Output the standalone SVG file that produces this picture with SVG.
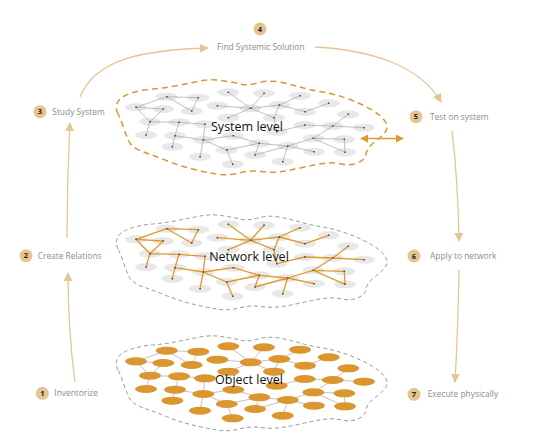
<svg xmlns="http://www.w3.org/2000/svg" xmlns:xlink="http://www.w3.org/1999/xlink" width="533" height="445" viewBox="0 0 533 445">
<style>
.step{font-family:"Open Sans","Noto Sans",sans-serif;font-size:8.4px;fill:#8c8c8c}
.num{font-family:"Open Sans","Noto Sans",sans-serif;font-size:7.5px;font-weight:bold;fill:#222;text-anchor:middle}
.badge{fill:#e4c591}
.lvl{font-family:"Open Sans","Noto Sans",sans-serif;font-size:12.5px;fill:#111;text-anchor:middle}
.flow{fill:none;stroke:#e5c593;stroke-width:1.3}
.blob-sys{fill:none;stroke:#dc9633;stroke-width:1.5;stroke-dasharray:6 4}
.blob-grey{fill:none;stroke:#8a8a8a;stroke-width:0.9;stroke-dasharray:4 3}
.e-grey{fill:none;stroke:#a0a0a0;stroke-width:0.65}
.e-orange{fill:none;stroke:#e0992e;stroke-width:1.3}
.n-grey{fill:#e8e8e8}
.n-orange{fill:#dc9630}
.dots{fill:#444}
</style>
<defs>
<marker id="ah" viewBox="0 0 10 10" refX="9" refY="5" markerWidth="9" markerHeight="9" markerUnits="userSpaceOnUse" orient="auto"><path d="M0,0 L10,5 L0,10 z" fill="#e5c593"/></marker>
<marker id="ao" viewBox="0 0 10 10" refX="9" refY="5" markerWidth="8" markerHeight="8" markerUnits="userSpaceOnUse" orient="auto-start-reverse"><path d="M0,0 L10,5 L0,10 z" fill="#e0992e"/></marker>
<path id="blob" d="M118,114 Q115,108 117.5,102.5 Q120,97 130,93.5 Q140,90 152.5,89 Q165,88 177.5,85.5 Q190,83 200,81 Q210,79 221,80.5 Q232,82 240,84 Q248,86 258,83 Q268,80 279,82 Q290,84 300,87 Q310,90 322.5,92 Q335,94 348.5,99 Q362,104 372,110 Q382,116 385.5,122 Q389,128 384.5,133 Q380,138 373.5,143 Q367,148 366,154 Q365,160 357.5,163 Q350,166 341.5,164 Q333,162 323,163.5 Q313,165 302.5,167.5 Q292,170 282,171.5 Q272,173 261,171.5 Q250,170 239,173 Q228,176 216.5,174 Q205,172 192.5,169 Q180,166 167.5,161 Q155,156 143.5,152 Q132,148 129,141.5 Q126,135 123.5,127.5 Q121,120 118,114 Z"/>
<path id="edges" d="M136,107.3 L166.7,96.7 M166.7,96.7 L198.3,97.7 M136,107.3 L163.3,109 M166.7,96.7 L191.7,111 M198.3,97.7 L191.7,111 M136,107.3 L150,121.7 M163.3,109 L150,121.7 M150,121.7 L179,122.3 M179,122.3 L205,124.3 M150,121.7 L146,135 M179,122.3 L175,135.7 M175,135.7 L172.3,146.7 M175,135.7 L203.3,140 M203.3,140 L205,124.3 M203.3,140 L233.3,135.7 M203.3,140 L226.7,150 M203.3,140 L200,156.7 M233.3,135.7 L259.3,143.3 M226.7,150 L259.3,143.3 M226.7,150 L232.7,164.3 M259.3,143.3 L255,155 M259.3,143.3 L287.7,146 M287.7,146 L255,155 M287.7,146 L313.3,138.3 M287.7,146 L314,151.7 M287.7,146 L282.7,161.7 M313.3,138.3 L332.7,126 M332.7,126 L348.3,114.3 M304.7,125 L332.7,126 M332.7,126 L364,127.7 M313.3,138.3 L344.3,139.3 M313.3,138.3 L345,152.3 M344.3,139.3 L345,152.3 M276.7,131.7 L304.7,125 M274,117.7 L276.7,131.7 M228.3,92.3 L250.7,108.3 M264,93.3 L250.7,108.3 M217.3,105.7 L250.7,108.3 M250.7,108.3 L279.3,105 M250.7,108.3 L228.3,117.7 M250.7,108.3 L274,117.7 M279.3,105 L300,95.7 M279.3,105 L305,111.7 M279.3,105 L274,117.7 M305,111.7 L328.7,103.3"/>
<g id="nodes">
<ellipse cx="166.7" cy="96.7" rx="11" ry="4"/><ellipse cx="198.3" cy="97.7" rx="11" ry="4"/><ellipse cx="228.3" cy="92.3" rx="11" ry="4"/><ellipse cx="264" cy="93.3" rx="11" ry="4"/><ellipse cx="300" cy="95.7" rx="11" ry="4"/><ellipse cx="136" cy="107.3" rx="11" ry="4"/><ellipse cx="163.3" cy="109" rx="11" ry="4"/><ellipse cx="191.7" cy="111" rx="11" ry="4"/><ellipse cx="217.3" cy="105.7" rx="11" ry="4"/><ellipse cx="250.7" cy="108.3" rx="11" ry="4"/><ellipse cx="279.3" cy="105" rx="11" ry="4"/><ellipse cx="328.7" cy="103.3" rx="11" ry="4"/><ellipse cx="305" cy="111.7" rx="11" ry="4"/><ellipse cx="150" cy="121.7" rx="11" ry="4"/><ellipse cx="179" cy="122.3" rx="11" ry="4"/><ellipse cx="205" cy="124.3" rx="11" ry="4"/><ellipse cx="228.3" cy="117.7" rx="11" ry="4"/><ellipse cx="274" cy="117.7" rx="11" ry="4"/><ellipse cx="276.7" cy="131.7" rx="11" ry="4"/><ellipse cx="304.7" cy="125" rx="11" ry="4"/><ellipse cx="332.7" cy="126" rx="11" ry="4"/><ellipse cx="348.3" cy="114.3" rx="11" ry="4"/><ellipse cx="364" cy="127.7" rx="11" ry="4"/><ellipse cx="146" cy="135" rx="11" ry="4"/><ellipse cx="175" cy="135.7" rx="11" ry="4"/><ellipse cx="203.3" cy="140" rx="11" ry="4"/><ellipse cx="233.3" cy="135.7" rx="11" ry="4"/><ellipse cx="259.3" cy="143.3" rx="11" ry="4"/><ellipse cx="287.7" cy="146" rx="11" ry="4"/><ellipse cx="313.3" cy="138.3" rx="11" ry="4"/><ellipse cx="344.3" cy="139.3" rx="11" ry="4"/><ellipse cx="172.3" cy="146.7" rx="11" ry="4"/><ellipse cx="226.7" cy="150" rx="11" ry="4"/><ellipse cx="255" cy="155" rx="11" ry="4"/><ellipse cx="314" cy="151.7" rx="11" ry="4"/><ellipse cx="345" cy="152.3" rx="11" ry="4"/><ellipse cx="200" cy="156.7" rx="11" ry="4"/><ellipse cx="232.7" cy="164.3" rx="11" ry="4"/><ellipse cx="282.7" cy="161.7" rx="11" ry="4"/>
</g>
<path id="dotset" d="M166,96 h1.5v1.5h-1.5z M197.6,97 h1.5v1.5h-1.5z M227.6,91.6 h1.5v1.5h-1.5z M263.3,92.6 h1.5v1.5h-1.5z M299.3,95 h1.5v1.5h-1.5z M135.3,106.6 h1.5v1.5h-1.5z M162.6,108.3 h1.5v1.5h-1.5z M191,110.3 h1.5v1.5h-1.5z M216.6,105 h1.5v1.5h-1.5z M250,107.6 h1.5v1.5h-1.5z M278.6,104.3 h1.5v1.5h-1.5z M328,102.6 h1.5v1.5h-1.5z M304.3,111 h1.5v1.5h-1.5z M149.3,121 h1.5v1.5h-1.5z M178.3,121.6 h1.5v1.5h-1.5z M204.3,123.6 h1.5v1.5h-1.5z M227.6,117 h1.5v1.5h-1.5z M273.3,117 h1.5v1.5h-1.5z M276,131 h1.5v1.5h-1.5z M304,124.3 h1.5v1.5h-1.5z M332,125.3 h1.5v1.5h-1.5z M347.6,113.6 h1.5v1.5h-1.5z M363.3,127 h1.5v1.5h-1.5z M145.3,134.3 h1.5v1.5h-1.5z M174.3,135 h1.5v1.5h-1.5z M202.6,139.3 h1.5v1.5h-1.5z M232.6,135 h1.5v1.5h-1.5z M258.6,142.6 h1.5v1.5h-1.5z M287,145.3 h1.5v1.5h-1.5z M312.6,137.6 h1.5v1.5h-1.5z M343.6,138.6 h1.5v1.5h-1.5z M171.6,146 h1.5v1.5h-1.5z M226,149.3 h1.5v1.5h-1.5z M254.3,154.3 h1.5v1.5h-1.5z M313.3,151 h1.5v1.5h-1.5z M344.3,151.6 h1.5v1.5h-1.5z M199.3,156 h1.5v1.5h-1.5z M232,163.6 h1.5v1.5h-1.5z M282,161 h1.5v1.5h-1.5z"/>
</defs>

<g id="level-system">
<use xlink:href="#blob" class="blob-sys"/>
<use xlink:href="#nodes" class="n-grey"/>
<use xlink:href="#edges" class="e-grey"/>
<use xlink:href="#dotset" class="dots"/>
<text class="lvl" x="247" y="131">System level</text>
</g>

<g id="level-network">
<use xlink:href="#blob" class="blob-grey" transform="translate(0,135)"/>
<use xlink:href="#nodes" class="n-grey" transform="translate(0,132)"/>
<use xlink:href="#edges" class="e-orange" transform="translate(0,132)"/>
<use xlink:href="#dotset" class="dots" transform="translate(0,132)"/>
<text class="lvl" x="249" y="261">Network level</text>
</g>

<g id="level-object">
<use xlink:href="#blob" class="blob-grey" transform="translate(0,256)"/>
<use xlink:href="#edges" class="e-grey" transform="translate(0,254)"/>
<use xlink:href="#nodes" class="n-orange" transform="translate(0,254)"/>
<text class="lvl" x="249" y="384">Object level</text>
</g>

<g id="connectors">
<path class="flow" d="M75,382 Q68,330 68,273" marker-end="url(#ah)"/>
<path class="flow" d="M67,238 Q67,180 70,123" marker-end="url(#ah)"/>
<path class="flow" d="M80,97 C95,60 140,50 208,48" marker-end="url(#ah)"/>
<path class="flow" d="M315,47 C370,50 420,65 441,102" marker-end="url(#ah)"/>
<path class="flow" d="M452,131 Q458,180 459,241" marker-end="url(#ah)"/>
<path class="flow" d="M459,270 Q458,330 455,382" marker-end="url(#ah)"/>
<path d="M361,138.5 L403,138.5" fill="none" stroke="#e0992e" stroke-width="1.5" marker-start="url(#ao)" marker-end="url(#ao)"/>
</g>

<g id="step-1"><circle class="badge" cx="42.3" cy="393.3" r="6.5"/><text class="num" x="42.3" y="396">1</text><text class="step" x="54.3" y="396.3">Inventorize</text></g>
<g id="step-2"><circle class="badge" cx="26" cy="255.7" r="6.5"/><text class="num" x="26" y="258.4">2</text><text class="step" x="37.7" y="258.5">Create Relations</text></g>
<g id="step-3"><circle class="badge" cx="40" cy="111.7" r="6.5"/><text class="num" x="40" y="114.4">3</text><text class="step" x="52.3" y="114.8">Study System</text></g>
<g id="step-4"><circle class="badge" cx="260" cy="29" r="6.5"/><text class="num" x="260" y="31.7">4</text><text class="step" x="217" y="50">Find Systemic Solution</text></g>
<g id="step-5"><circle class="badge" cx="416" cy="116.7" r="6.5"/><text class="num" x="416" y="119.4">5</text><text class="step" x="430" y="119.8">Test on system</text></g>
<g id="step-6"><circle class="badge" cx="414" cy="256" r="6.5"/><text class="num" x="414" y="258.7">6</text><text class="step" x="430" y="258.8">Apply to network</text></g>
<g id="step-7"><circle class="badge" cx="414" cy="394.3" r="6.5"/><text class="num" x="414" y="397">7</text><text class="step" x="427.7" y="397.3">Execute physically</text></g>
</svg>
